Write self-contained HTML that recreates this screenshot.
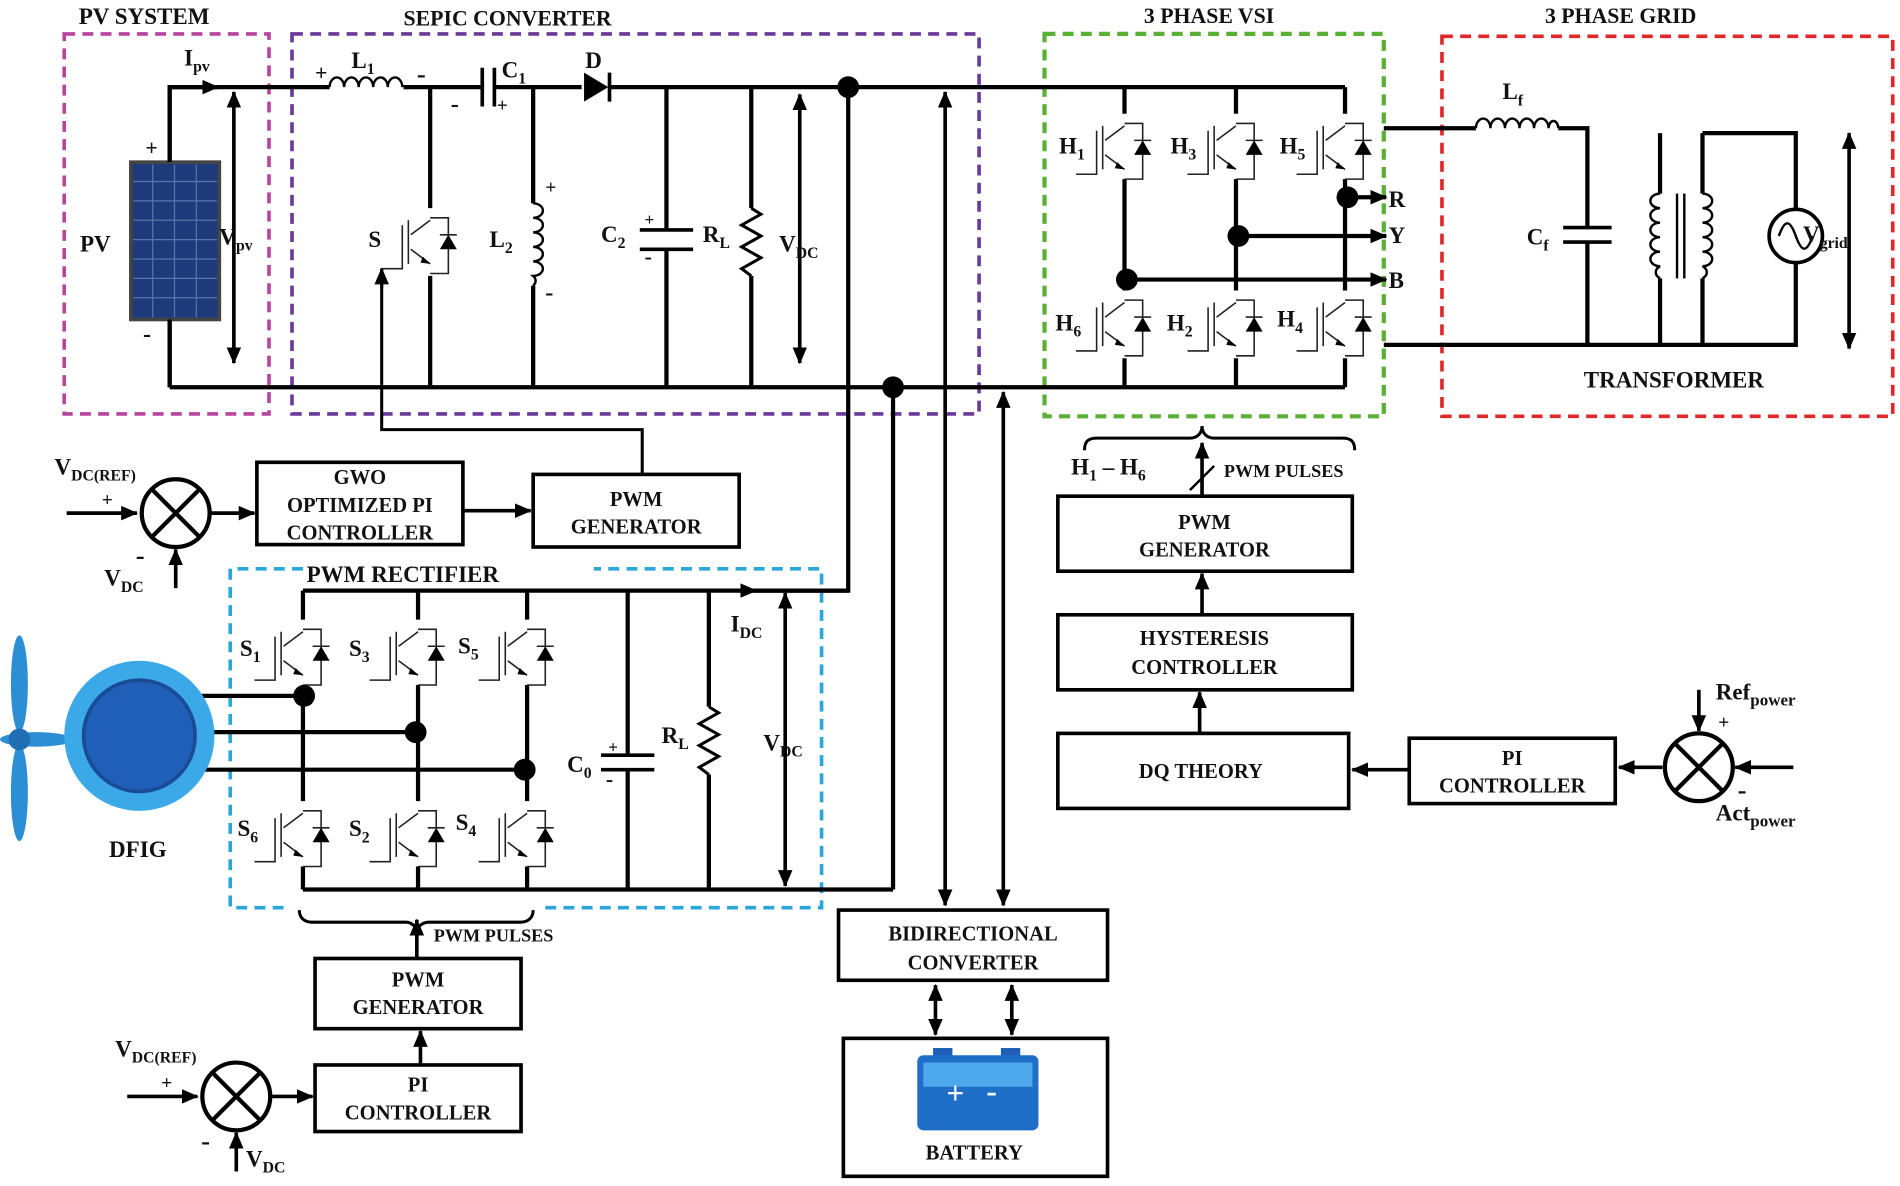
<!DOCTYPE html>
<html><head><meta charset="utf-8"><style>
html,body{margin:0;padding:0;background:#fff}
svg{display:block}
text{font-family:"Liberation Serif",serif;font-weight:bold;fill:#111}
.w{stroke:#000;stroke-width:3.5;fill:none}
.t{stroke:#222;stroke-width:1.3;fill:none}
.b{stroke:#000;stroke-width:3;fill:#fff}
</style></head><body>
<svg width="1900" height="1186" viewBox="0 0 1568 980" preserveAspectRatio="none">
<defs>
<marker id="ar" markerWidth="8" markerHeight="8" refX="7" refY="4" orient="auto" markerUnits="userSpaceOnUse" viewBox="0 0 8 8"><path d="M0,0L8,4L0,8z" fill="#000"/></marker>
<marker id="ar2" markerWidth="14" markerHeight="12" refX="13" refY="6" orient="auto" markerUnits="userSpaceOnUse" viewBox="0 0 14 12"><path d="M0,0L14,6L0,12z" fill="#000"/></marker>
<marker id="as" markerWidth="14" markerHeight="12" refX="1" refY="6" orient="auto" markerUnits="userSpaceOnUse" viewBox="0 0 14 12"><path d="M14,0L0,6L14,12z" fill="#000"/></marker>
<g id="ig">
<path class="t" d="M0,-18L-16,-6M-18,-18V18M-23,-14V22H-40M-16,6L0,18M0,-20H15V26H0"/>
<path d="M-6,12L0,18L-8,17z" fill="#000"/>
<path d="M8,6H22L15,-6z" fill="#000"/><path class="t" d="M8,-6H22"/>
</g>
<g id="sm"><circle r="28" fill="#fff" stroke="#000" stroke-width="3.5"/><path d="M-20,-20L20,20M20,-20L-20,20" stroke="#000" stroke-width="3.5"/></g>
</defs>

<!-- dashed boxes -->
<rect x="53" y="28" width="169" height="314" fill="none" stroke="#b7459f" stroke-width="3" stroke-dasharray="9,6"/>
<rect x="241" y="28" width="567" height="314" fill="none" stroke="#6a3a9a" stroke-width="3" stroke-dasharray="9,6"/>
<rect x="862" y="28" width="280" height="316" fill="none" stroke="#5ab034" stroke-width="3.5" stroke-dasharray="9,6"/>
<rect x="1190" y="30" width="372" height="314" fill="none" stroke="#e0282a" stroke-width="3" stroke-dasharray="9,6"/>
<path d="M250,470H190V750H678V470H490" fill="none" stroke="#2aa6d8" stroke-width="3" stroke-dasharray="9,6"/>
<rect x="240" y="742" width="205" height="16" fill="#fff"/>

<text x="65" y="20" font-size="19">PV SYSTEM</text>
<text x="333" y="21" font-size="18">SEPIC CONVERTER</text>
<text x="944" y="19" font-size="18">3 PHASE VSI</text>
<text x="1275" y="19" font-size="18">3 PHASE GRID</text>
<text x="253" y="481" font-size="19">PWM RECTIFIER</text>

<!-- PV -->
<path class="w" d="M140,320V72H265M140,320H1110"/>
<path d="M140,72H180" stroke="#000" stroke-width="3.5" marker-end="url(#ar2)"/>
<rect x="108" y="134" width="73" height="130" fill="#1f3a7a" stroke="#444" stroke-width="3"/>
<g stroke="#5577aa" stroke-width="1">
<path d="M126,136V262M144,136V262M162,136V262M110,150H179M110,166H179M110,182H179M110,198H179M110,214H179M110,230H179M110,246H179"/></g>
<path class="w" d="M140,72V134M140,264V320" />
<text x="66" y="208" font-size="19">PV</text>
<text x="120" y="128" font-size="18">+</text>
<text x="118" y="282" font-size="20">-</text>
<text x="152" y="54" font-size="19">I<tspan font-size="13" dy="5">pv</tspan></text>
<path d="M193,300V76" stroke="#000" stroke-width="3" marker-start="url(#as)" marker-end="url(#ar2)"/>
<text x="181" y="202" font-size="19">V<tspan font-size="13" dy="5">pv</tspan></text>

<!-- SEPIC -->
<path class="w" d="M265,72H272M335,72H398M408,72H480M502,72H1110"/>
<path d="M272,72a6,8 0 0 1 12,0a6,8 0 0 1 12,0a6,8 0 0 1 12,0a6,8 0 0 1 12,0a6,8 0 0 1 12,0" fill="none" stroke="#000" stroke-width="2"/>
<path d="M333,72h4" class="w"/>
<text x="260" y="66" font-size="18">+</text><text x="344" y="68" font-size="22">-</text>
<text x="290" y="56" font-size="19">L<tspan font-size="13" dy="5">1</tspan></text>
<path d="M398,56V88M408,56V88" stroke="#000" stroke-width="3"/>
<text x="372" y="92" font-size="20">-</text><text x="410" y="92" font-size="16">+</text>
<text x="414" y="64" font-size="19">C<tspan font-size="13" dy="5">1</tspan></text>
<path d="M482,60V84L502,72z" fill="#000"/><path d="M503,60V84" stroke="#000" stroke-width="3"/>
<text x="483" y="56" font-size="19">D</text>
<!-- S switch -->
<path class="w" d="M355,72V172M355,228V320"/>
<use href="#ig" x="355" y="200"/>
<path d="M315,318V222" stroke="#000" stroke-width="2.5" marker-end="url(#ar2)"/>
<path d="M315,222V238M315,318V355H530V392" stroke="#000" stroke-width="2.5" fill="none"/>
<text x="304" y="204" font-size="19">S</text>
<!-- L2 -->
<path class="w" d="M440,72V168M440,236V320"/>
<path d="M440,168a8,6 0 0 1 0,12a8,6 0 0 1 0,12a8,6 0 0 1 0,12a8,6 0 0 1 0,12a8,6 0 0 1 0,12a8,6 0 0 1 0,8" fill="none" stroke="#000" stroke-width="2"/>
<text x="450" y="160" font-size="16">+</text><text x="450" y="248" font-size="20">-</text>
<text x="404" y="204" font-size="19">L<tspan font-size="13" dy="5">2</tspan></text>
<!-- C2 -->
<path class="w" d="M550,72V190M550,206V320"/>
<path d="M528,190H572M528,206H572" stroke="#000" stroke-width="3"/>
<text x="532" y="186" font-size="14">+</text><text x="532" y="218" font-size="18">-</text>
<text x="496" y="200" font-size="19">C<tspan font-size="13" dy="5">2</tspan></text>
<!-- RL -->
<path class="w" d="M620,72V172M620,228V320"/>
<path d="M620,172l8,5l-16,9l16,9l-16,9l16,9l-16,9l8,6" fill="none" stroke="#000" stroke-width="2.5"/>
<text x="580" y="200" font-size="19">R<tspan font-size="13" dy="5">L</tspan></text>
<path d="M660,300V78" stroke="#000" stroke-width="3" marker-start="url(#as)" marker-end="url(#ar2)"/>
<text x="643" y="208" font-size="19">V<tspan font-size="13" dy="5">DC</tspan></text>
<circle cx="700" cy="72" r="9" fill="#000"/>
<circle cx="737" cy="320" r="9" fill="#000"/>
<path class="w" d="M700,72V488H610M737,320V735"/>
<path d="M780,748V76" stroke="#000" stroke-width="3" marker-start="url(#as)" marker-end="url(#ar2)"/>
<path d="M828,748V324" stroke="#000" stroke-width="3" marker-start="url(#as)" marker-end="url(#ar2)"/>

<!-- VSI -->
<path class="w" d="M928,72V94M928,148V240M928,296V320M1020,72V94M1020,148V240M1020,296V320M1110,72V94M1110,148V240M1110,296V320"/>
<use href="#ig" x="928" y="122"/><use href="#ig" x="1020" y="122"/><use href="#ig" x="1110" y="122"/>
<use href="#ig" x="928" y="268"/><use href="#ig" x="1020" y="268"/><use href="#ig" x="1110" y="268"/>
<circle cx="1112" cy="163" r="9" fill="#000"/><circle cx="1022" cy="195" r="9" fill="#000"/><circle cx="930" cy="231" r="9" fill="#000"/>
<path d="M1112,163H1144" stroke="#000" stroke-width="3.5" marker-end="url(#ar2)"/>
<path d="M1022,195H1144" stroke="#000" stroke-width="3.5" marker-end="url(#ar2)"/>
<path d="M930,231H1144" stroke="#000" stroke-width="3.5" marker-end="url(#ar2)"/>
<text x="1146" y="171" font-size="19">R</text><text x="1146" y="201" font-size="19">Y</text><text x="1146" y="238" font-size="19">B</text>
<text x="874" y="127" font-size="19">H<tspan font-size="13" dy="5">1</tspan></text>
<text x="966" y="127" font-size="19">H<tspan font-size="13" dy="5">3</tspan></text>
<text x="1056" y="127" font-size="19">H<tspan font-size="13" dy="5">5</tspan></text>
<text x="871" y="273" font-size="19">H<tspan font-size="13" dy="5">6</tspan></text>
<text x="963" y="273" font-size="19">H<tspan font-size="13" dy="5">2</tspan></text>
<text x="1054" y="270" font-size="19">H<tspan font-size="13" dy="5">4</tspan></text>

<!-- Grid -->
<path class="w" d="M1142,106H1218M1286,106H1310V188M1310,200V285M1142,285H1430M1370,110V160M1370,230V285M1405,110V160M1405,230V285M1405,110H1482V173M1482,217V285H1430"/>
<path d="M1218,106a6,8 0 0 1 12,0a6,8 0 0 1 12,0a6,8 0 0 1 12,0a6,8 0 0 1 12,0a6,8 0 0 1 12,0a4,6 0 0 1 8,0" fill="none" stroke="#000" stroke-width="2"/>
<text x="1240" y="82" font-size="19">L<tspan font-size="13" dy="5">f</tspan></text>
<path d="M1290,188H1330M1290,200H1330" stroke="#000" stroke-width="3"/>
<text x="1260" y="202" font-size="19">C<tspan font-size="13" dy="5">f</tspan></text>
<path d="M1370,160a8,6 0 0 0 0,12a8,6 0 0 0 0,12a8,6 0 0 0 0,12a8,6 0 0 0 0,12a8,6 0 0 0 0,12a8,6 0 0 0 0,10" fill="none" stroke="#000" stroke-width="2"/>
<path d="M1405,160a8,6 0 0 1 0,12a8,6 0 0 1 0,12a8,6 0 0 1 0,12a8,6 0 0 1 0,12a8,6 0 0 1 0,12a8,6 0 0 1 0,10" fill="none" stroke="#000" stroke-width="2"/>
<path d="M1384,160V230M1390,160V230" stroke="#000" stroke-width="2"/>
<circle cx="1482" cy="195" r="22" fill="#fff" stroke="#000" stroke-width="3"/>
<path d="M1468,195c5,-14 9,-14 14,0c5,14 9,14 14,0" fill="none" stroke="#000" stroke-width="2"/>
<text x="1488" y="200" font-size="19">V<tspan font-size="13" dy="5">grid</tspan></text>
<path d="M1526,288V110" stroke="#000" stroke-width="3" marker-start="url(#as)" marker-end="url(#ar2)"/>
<text x="1307" y="320" font-size="19">TRANSFORMER</text>

<!-- SEPIC controller -->
<text x="45" y="392" font-size="19">V<tspan font-size="13" dy="5">DC(REF)</tspan></text>
<path d="M55,424H113" stroke="#000" stroke-width="3" marker-end="url(#ar2)"/>
<text x="84" y="418" font-size="16">+</text>
<use href="#sm" x="145" y="424"/>
<path d="M145,486V454" stroke="#000" stroke-width="3" marker-end="url(#ar2)"/>
<text x="112" y="466" font-size="22">-</text>
<text x="86" y="484" font-size="19">V<tspan font-size="13" dy="5">DC</tspan></text>
<path d="M173,424H210" stroke="#000" stroke-width="3" marker-end="url(#ar2)"/>
<rect class="b" x="212" y="382" width="170" height="68"/>
<text x="297" y="400" font-size="17" text-anchor="middle">GWO</text>
<text x="297" y="423" font-size="17" text-anchor="middle">OPTIMIZED  PI</text>
<text x="297" y="446" font-size="17" text-anchor="middle">CONTROLLER</text>
<path d="M382,422H438" stroke="#000" stroke-width="3" marker-end="url(#ar2)"/>
<rect class="b" x="440" y="392" width="170" height="60"/>
<text x="525" y="418" font-size="17" text-anchor="middle">PWM</text>
<text x="525" y="441" font-size="17" text-anchor="middle">GENERATOR</text>

<!-- VSI controller -->
<path d="M895,372c0,-8 4,-10 10,-10H982c6,0 10,-4 10,-10c0,6 4,10 10,10H1108c6,0 10,2 10,10" fill="none" stroke="#000" stroke-width="2.5"/>
<path d="M992,410V366" stroke="#000" stroke-width="3" marker-end="url(#ar2)"/>
<path d="M982,405L1002,385" stroke="#000" stroke-width="2"/>
<text x="884" y="392" font-size="19">H<tspan font-size="13" dy="5">1</tspan><tspan dy="-5"> – H</tspan><tspan font-size="13" dy="5">6</tspan></text>
<text x="1010" y="394" font-size="15">PWM PULSES</text>
<rect class="b" x="873" y="410" width="243" height="62"/>
<text x="994" y="437" font-size="17" text-anchor="middle">PWM</text>
<text x="994" y="460" font-size="17" text-anchor="middle">GENERATOR</text>
<path d="M992,508V474" stroke="#000" stroke-width="3" marker-end="url(#ar2)"/>
<rect class="b" x="873" y="508" width="243" height="62"/>
<text x="994" y="533" font-size="17" text-anchor="middle">HYSTERESIS</text>
<text x="994" y="557" font-size="17" text-anchor="middle">CONTROLLER</text>
<path d="M990,606V572" stroke="#000" stroke-width="3" marker-end="url(#ar2)"/>
<rect class="b" x="873" y="606" width="240" height="62"/>
<text x="991" y="643" font-size="17" text-anchor="middle">DQ THEORY</text>
<path d="M1162,636H1116" stroke="#000" stroke-width="3" marker-end="url(#ar2)"/>
<rect class="b" x="1163" y="610" width="170" height="54"/>
<text x="1248" y="632" font-size="17" text-anchor="middle">PI</text>
<text x="1248" y="655" font-size="17" text-anchor="middle">CONTROLLER</text>
<path d="M1372,634H1336" stroke="#000" stroke-width="3" marker-end="url(#ar2)"/>
<use href="#sm" x="1402" y="634"/>
<path d="M1402,570V604" stroke="#000" stroke-width="3" marker-end="url(#ar2)"/>
<path d="M1480,634H1432" stroke="#000" stroke-width="3" marker-end="url(#ar2)"/>
<text x="1416" y="578" font-size="19">Ref<tspan font-size="14" dy="5">power</tspan></text>
<text x="1418" y="602" font-size="16">+</text>
<text x="1434" y="660" font-size="22">-</text>
<text x="1416" y="678" font-size="19">Act<tspan font-size="14" dy="5">power</tspan></text>

<!-- Rectifier -->
<path class="w" d="M250,488H700M250,488V512M250,566V662M250,716V735M345,488V512M345,566V662M345,716V735M435,488V512M435,566V662M435,716V735M250,735H737"/>
<path d="M610,488H624" stroke="#000" stroke-width="3" marker-end="url(#ar2)"/>
<use href="#ig" x="250" y="540"/><use href="#ig" x="345" y="540"/><use href="#ig" x="435" y="540"/>
<use href="#ig" x="250" y="690"/><use href="#ig" x="345" y="690"/><use href="#ig" x="435" y="690"/>
<text x="198" y="542" font-size="19">S<tspan font-size="13" dy="5">1</tspan></text>
<text x="288" y="542" font-size="19">S<tspan font-size="13" dy="5">3</tspan></text>
<text x="378" y="540" font-size="19">S<tspan font-size="13" dy="5">5</tspan></text>
<text x="196" y="691" font-size="19">S<tspan font-size="13" dy="5">6</tspan></text>
<text x="288" y="691" font-size="19">S<tspan font-size="13" dy="5">2</tspan></text>
<text x="376" y="686" font-size="19">S<tspan font-size="13" dy="5">4</tspan></text>
<path class="w" d="M165,575H250M165,605H345M165,636H435"/>
<circle cx="251" cy="575" r="9" fill="#000"/><circle cx="343" cy="605" r="9" fill="#000"/><circle cx="433" cy="636" r="9" fill="#000"/>
<path class="w" d="M518,488V624M518,636V735"/>
<path d="M496,624H540M496,636H540" stroke="#000" stroke-width="3"/>
<text x="502" y="622" font-size="14">+</text><text x="500" y="650" font-size="18">-</text>
<text x="468" y="638" font-size="19">C<tspan font-size="13" dy="5">0</tspan></text>
<path class="w" d="M585,488V584M585,640V735"/>
<path d="M585,584l8,5l-16,9l16,9l-16,9l16,9l-16,9l8,6" fill="none" stroke="#000" stroke-width="2.5"/>
<text x="546" y="614" font-size="19">R<tspan font-size="13" dy="5">L</tspan></text>
<path d="M648,732V490" stroke="#000" stroke-width="3" marker-start="url(#as)" marker-end="url(#ar2)"/>
<text x="603" y="522" font-size="19">I<tspan font-size="13" dy="5">DC</tspan></text>
<text x="630" y="620" font-size="19">V<tspan font-size="13" dy="5">DC</tspan></text>

<!-- DFIG -->
<ellipse cx="16" cy="565" rx="7" ry="40" fill="#2c8fd6"/>
<ellipse cx="16" cy="655" rx="7" ry="40" fill="#2c8fd6"/>
<ellipse cx="30" cy="611" rx="30" ry="6" fill="#2c8fd6"/>
<circle cx="16" cy="611" r="9" fill="#1f6fb5"/>
<circle cx="115" cy="608" r="62" fill="#3ba8e8"/>
<circle cx="115" cy="608" r="46" fill="#1f5fb8" stroke="#1a4c96" stroke-width="3"/>
<text x="90" y="708" font-size="19">DFIG</text>

<!-- Rectifier controller -->
<path d="M247,752c0,6 4,10 10,10H335c5,0 9,4 9,10c0,-6 4,-10 10,-10H430c6,0 10,-4 10,-10" fill="none" stroke="#000" stroke-width="2.5"/>
<path d="M344,792V760" stroke="#000" stroke-width="3" marker-end="url(#ar2)"/>
<text x="358" y="778" font-size="15">PWM PULSES</text>
<rect class="b" x="260" y="792" width="170" height="58"/>
<text x="345" y="815" font-size="17" text-anchor="middle">PWM</text>
<text x="345" y="838" font-size="17" text-anchor="middle">GENERATOR</text>
<path d="M347,880V852" stroke="#000" stroke-width="3" marker-end="url(#ar2)"/>
<rect class="b" x="260" y="880" width="170" height="55"/>
<text x="345" y="902" font-size="17" text-anchor="middle">PI</text>
<text x="345" y="925" font-size="17" text-anchor="middle">CONTROLLER</text>
<text x="95" y="873" font-size="19">V<tspan font-size="13" dy="5">DC(REF)</tspan></text>
<path d="M105,906H163" stroke="#000" stroke-width="3" marker-end="url(#ar2)"/>
<text x="133" y="900" font-size="16">+</text>
<use href="#sm" x="195" y="906"/>
<path d="M195,968V936" stroke="#000" stroke-width="3" marker-end="url(#ar2)"/>
<text x="166" y="950" font-size="22">-</text>
<text x="203" y="964" font-size="19">V<tspan font-size="13" dy="5">DC</tspan></text>
<path d="M223,906H258" stroke="#000" stroke-width="3" marker-end="url(#ar2)"/>

<!-- Battery -->
<rect class="b" x="692" y="752" width="222" height="58"/>
<text x="803" y="777" font-size="17" text-anchor="middle">BIDIRECTIONAL</text>
<text x="803" y="801" font-size="17" text-anchor="middle">CONVERTER</text>
<path d="M772,855V814" stroke="#000" stroke-width="3" marker-start="url(#as)" marker-end="url(#ar2)"/>
<path d="M835,855V814" stroke="#000" stroke-width="3" marker-start="url(#as)" marker-end="url(#ar2)"/>
<rect class="b" x="696" y="858" width="218" height="114"/>
<rect x="770" y="866" width="16" height="8" fill="#1f5fb8"/><rect x="826" y="866" width="16" height="8" fill="#1f5fb8"/>
<rect x="757" y="872" width="100" height="62" rx="5" fill="#1f6fc8"/>
<rect x="762" y="878" width="90" height="20" fill="#4da8ec"/>
<text x="781" y="912" font-size="26" fill="#fff" style="fill:#fff">+</text>
<text x="814" y="910" font-size="26" style="fill:#fff">-</text>
<text x="804" y="958" font-size="17" text-anchor="middle">BATTERY</text>
</svg>
</body></html>
